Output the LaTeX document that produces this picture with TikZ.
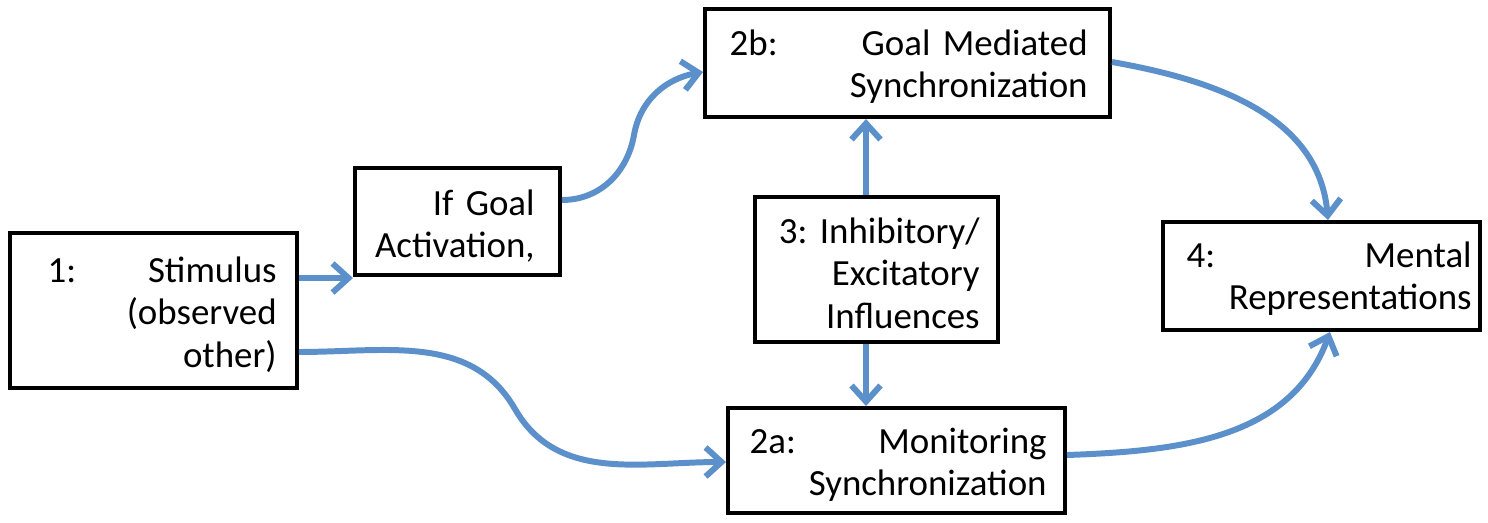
\documentclass[tikz,border=0pt]{standalone}
\usepackage{fontspec}
\setmainfont{Carlito}
\usetikzlibrary{arrows.meta}

\definecolor{flowblue}{RGB}{92,144,202}

\begin{document}
\begin{tikzpicture}[x=0.02cm,y=-0.02cm,
  box/.style={draw,line width=2.3pt,inner sep=0pt},
  txt/.style={anchor=base east,align=right,inner sep=0pt,
    font=\fontsize{21}{24.2}\selectfont\frenchspacing},
  flow/.style={draw=flowblue,line width=3.4pt,-{Straight Barb[length=0.32cm,width=0.58cm]}}]

\useasboundingbox (0,0) rectangle (1488,522);

\node[box,minimum width=5.74cm,minimum height=3.1cm] (s1) at (153.5,310.5) {};
\node[box,minimum width=4.1cm,minimum height=2.14cm] (goal) at (457.5,221.5) {};
\node[box,minimum width=8.1cm,minimum height=2.16cm] (g2b) at (907.5,63) {};
\node[box,minimum width=4.86cm,minimum height=2.9cm] (m3) at (876.5,269.5) {};
\node[box,minimum width=6.34cm,minimum height=2.16cm] (m4) at (1321.5,276) {};
\node[box,minimum width=6.74cm,minimum height=2.1cm] (g2a) at (896.5,460.5) {};

\node[txt,text width=4.58cm] (s1-txt) at (277,282) {1:\hfill Stimulus\\ (observed\\ other)};
\node[txt,text width=3.3cm] (goal-txt) at (535,215) {If Goal\\ Activation,};
\node[txt,text width=7.16cm] (g2b-txt) at (1088,55) {2b:\hfill Goal Mediated\\ Synchronization};
\node[txt,text width=4.2cm] (m3-txt) at (980,243) {3: Inhibitory/\\ Excitatory\\ Influences};
\node[txt,text width=5.7cm] (m4-txt) at (1472,267) {4:\hfill Mental\\ Representations};
\node[txt,text width=5.94cm] (g2a-txt) at (1047,453) {2a:\hfill Monitoring\\ Synchronization};

\draw[flow] ([yshift=0.65cm]s1.east) -- ([yshift=0.65cm]s1.east -| goal.west);
\draw[flow] ([yshift=0.43cm]goal.east) to[out=0,in=-100] ++(72,-65)
  to[out=80,in=190] ([yshift=-0.18cm]g2b.west);
\draw[flow] ([yshift=0.02cm]g2b.east) to[out=-10,in=95] ([xshift=0.13cm]m4.north);
\draw[flow] ([xshift=-0.21cm]m3.north) -- ([xshift=-0.21cm]m3.north |- g2b.south);
\draw[flow] ([xshift=-0.21cm]m3.south) -- ([xshift=-0.21cm]m3.south |- g2a.north);
\draw[flow] ([yshift=-0.83cm]s1.east) to[out=0,in=120] ++(216,57)
  to[out=-60,in=180] ([yshift=-0.03cm]g2a.west);
\draw[flow] ([yshift=0.11cm]g2a.east) to[out=2,in=-110] ([xshift=0.17cm]m4.south);

\end{tikzpicture}
\end{document}
